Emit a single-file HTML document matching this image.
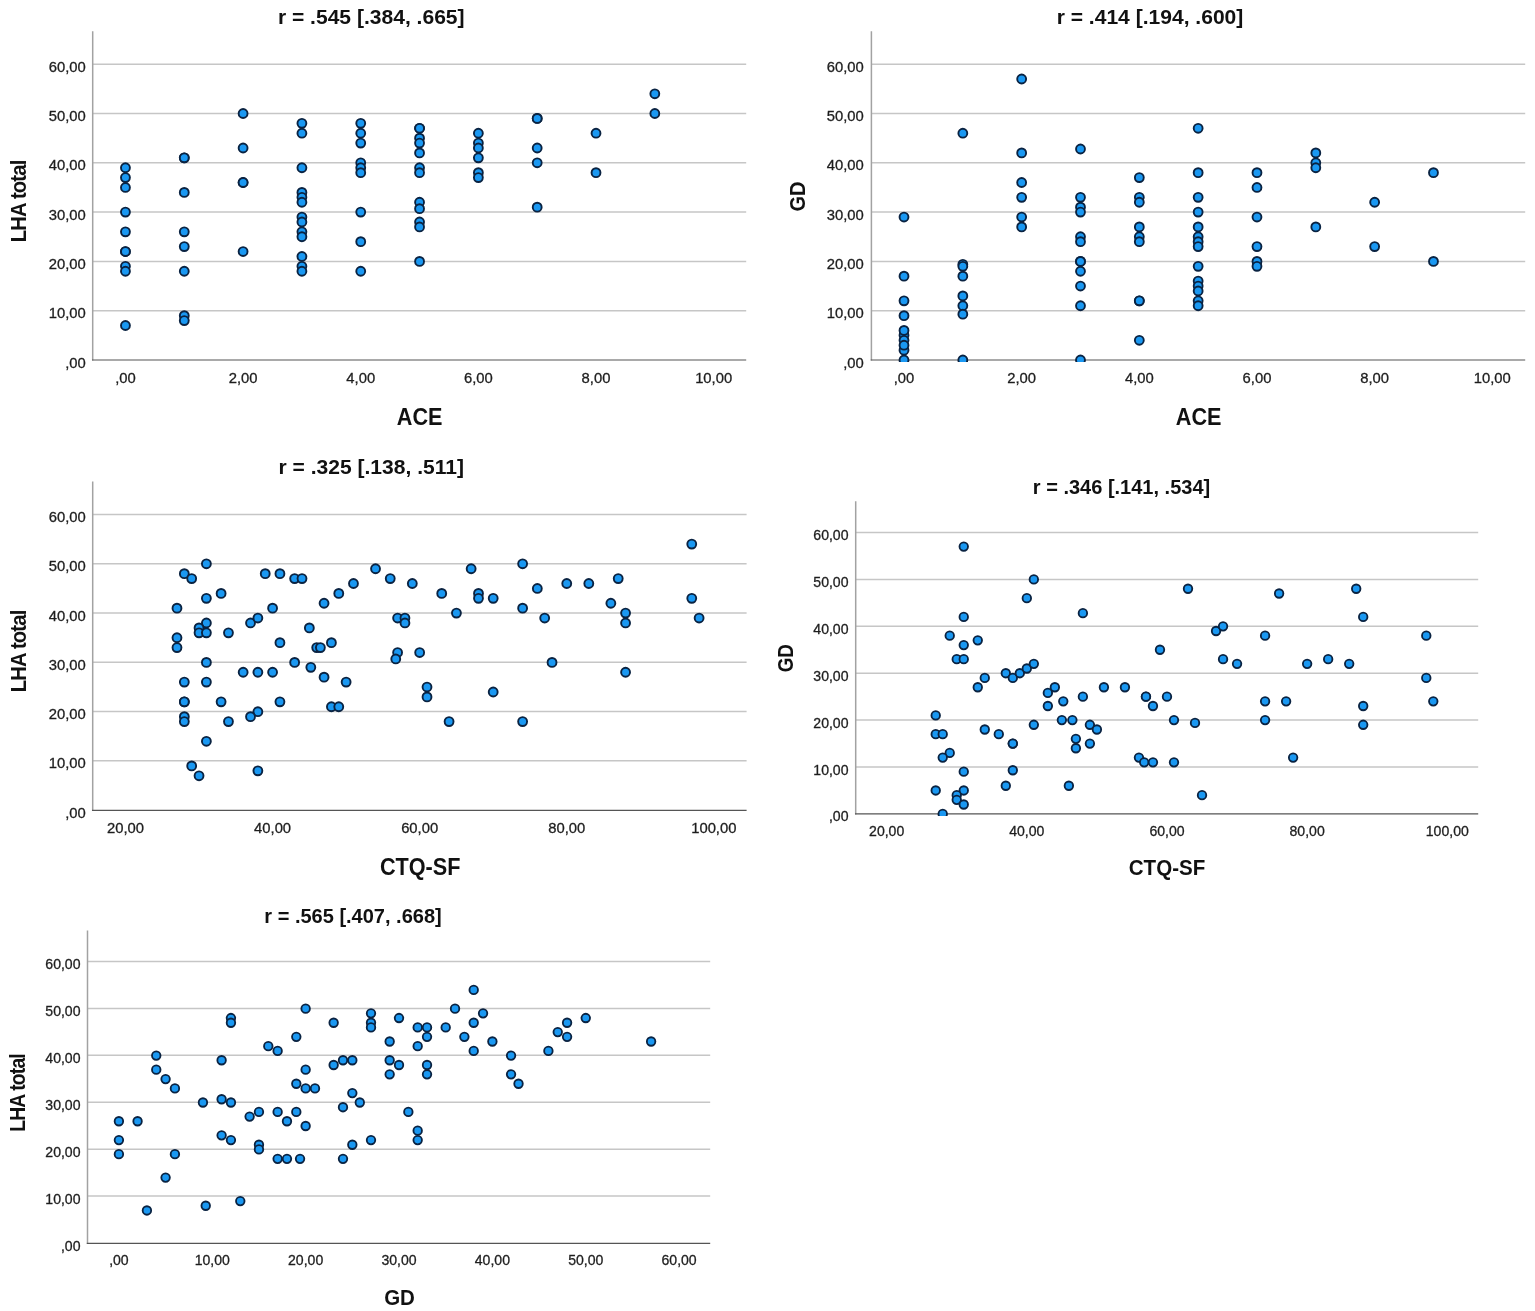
<!DOCTYPE html>
<html lang="en"><head><meta charset="utf-8"><title>Scatter plots</title>
<style>
html,body{margin:0;padding:0;background:#fff;}
body{width:1535px;height:1311px;overflow:hidden;}
svg{display:block;font-family:"Liberation Sans",Arial,sans-serif;}
</style></head><body>
<svg width="1535" height="1311" viewBox="0 0 1535 1311">
<rect width="1535" height="1311" fill="#ffffff"/>
<line x1="92.7" y1="64.2" x2="746.2" y2="64.2" stroke="#c6c6c6" stroke-width="1.5"/>
<line x1="92.7" y1="113.5" x2="746.2" y2="113.5" stroke="#c6c6c6" stroke-width="1.5"/>
<line x1="92.7" y1="162.8" x2="746.2" y2="162.8" stroke="#c6c6c6" stroke-width="1.5"/>
<line x1="92.7" y1="212.1" x2="746.2" y2="212.1" stroke="#c6c6c6" stroke-width="1.5"/>
<line x1="92.7" y1="261.4" x2="746.2" y2="261.4" stroke="#c6c6c6" stroke-width="1.5"/>
<line x1="92.7" y1="310.7" x2="746.2" y2="310.7" stroke="#c6c6c6" stroke-width="1.5"/>
<line x1="92.7" y1="31.3" x2="92.7" y2="360.6" stroke="#a2a2a2" stroke-width="1.5"/>
<line x1="92.0" y1="360.0" x2="746.2" y2="360.0" stroke="#555555" stroke-width="1.15"/>
<text x="85.8" y="71.75" font-size="14.8" text-anchor="end" fill="#1e1e1e" stroke="#1e1e1e" stroke-width="0.3">60,00</text>
<text x="85.8" y="121.05" font-size="14.8" text-anchor="end" fill="#1e1e1e" stroke="#1e1e1e" stroke-width="0.3">50,00</text>
<text x="85.8" y="170.35" font-size="14.8" text-anchor="end" fill="#1e1e1e" stroke="#1e1e1e" stroke-width="0.3">40,00</text>
<text x="85.8" y="219.65" font-size="14.8" text-anchor="end" fill="#1e1e1e" stroke="#1e1e1e" stroke-width="0.3">30,00</text>
<text x="85.8" y="268.95" font-size="14.8" text-anchor="end" fill="#1e1e1e" stroke="#1e1e1e" stroke-width="0.3">20,00</text>
<text x="85.8" y="318.25" font-size="14.8" text-anchor="end" fill="#1e1e1e" stroke="#1e1e1e" stroke-width="0.3">10,00</text>
<text x="85.8" y="367.55" font-size="14.8" text-anchor="end" fill="#1e1e1e" stroke="#1e1e1e" stroke-width="0.3">,00</text>
<text x="125.45" y="382.8" font-size="14.8" text-anchor="middle" fill="#1e1e1e" stroke="#1e1e1e" stroke-width="0.3">,00</text>
<text x="243.09" y="382.8" font-size="14.8" text-anchor="middle" fill="#1e1e1e" stroke="#1e1e1e" stroke-width="0.3">2,00</text>
<text x="360.73" y="382.8" font-size="14.8" text-anchor="middle" fill="#1e1e1e" stroke="#1e1e1e" stroke-width="0.3">4,00</text>
<text x="478.37" y="382.8" font-size="14.8" text-anchor="middle" fill="#1e1e1e" stroke="#1e1e1e" stroke-width="0.3">6,00</text>
<text x="596.01" y="382.8" font-size="14.8" text-anchor="middle" fill="#1e1e1e" stroke="#1e1e1e" stroke-width="0.3">8,00</text>
<text x="713.65" y="382.8" font-size="14.8" text-anchor="middle" fill="#1e1e1e" stroke="#1e1e1e" stroke-width="0.3">10,00</text>
<text x="371.25" y="24.0" font-size="21.05" font-weight="bold" text-anchor="middle" fill="#111">r = .545 [.384, .665]</text>
<text x="419.7" y="424.5" font-size="23.4" font-weight="bold" text-anchor="middle" fill="#111" textLength="45.7" lengthAdjust="spacingAndGlyphs">ACE</text>
<text transform="translate(26.4 201.4) rotate(-90) scale(0.89 1)" font-size="22.8" font-weight="bold" text-anchor="middle" letter-spacing="-0.97" fill="#111">LHA total</text>
<clipPath id="c1"><rect x="92.7" y="21.3" width="673.5" height="340.7"/></clipPath>
<g fill="#1a98f2" stroke="#0a2342" stroke-width="1.9" clip-path="url(#c1)">
<circle cx="125.45" cy="167.73" r="4.45"/>
<circle cx="125.45" cy="177.59" r="4.45"/>
<circle cx="125.45" cy="187.45" r="4.45"/>
<circle cx="125.45" cy="212.10" r="4.45"/>
<circle cx="125.45" cy="231.82" r="4.45"/>
<circle cx="125.45" cy="251.54" r="4.45"/>
<circle cx="125.45" cy="251.54" r="4.45"/>
<circle cx="125.45" cy="266.33" r="4.45"/>
<circle cx="125.45" cy="271.26" r="4.45"/>
<circle cx="125.45" cy="325.49" r="4.45"/>
<circle cx="184.27" cy="157.87" r="4.45"/>
<circle cx="184.27" cy="157.87" r="4.45"/>
<circle cx="184.27" cy="192.38" r="4.45"/>
<circle cx="184.27" cy="231.82" r="4.45"/>
<circle cx="184.27" cy="246.61" r="4.45"/>
<circle cx="184.27" cy="271.26" r="4.45"/>
<circle cx="184.27" cy="315.63" r="4.45"/>
<circle cx="184.27" cy="320.56" r="4.45"/>
<circle cx="243.09" cy="113.50" r="4.45"/>
<circle cx="243.09" cy="148.01" r="4.45"/>
<circle cx="243.09" cy="182.52" r="4.45"/>
<circle cx="243.09" cy="182.52" r="4.45"/>
<circle cx="243.09" cy="251.54" r="4.45"/>
<circle cx="301.91" cy="123.36" r="4.45"/>
<circle cx="301.91" cy="133.22" r="4.45"/>
<circle cx="301.91" cy="167.73" r="4.45"/>
<circle cx="301.91" cy="192.38" r="4.45"/>
<circle cx="301.91" cy="197.31" r="4.45"/>
<circle cx="301.91" cy="202.24" r="4.45"/>
<circle cx="301.91" cy="217.03" r="4.45"/>
<circle cx="301.91" cy="221.96" r="4.45"/>
<circle cx="301.91" cy="231.82" r="4.45"/>
<circle cx="301.91" cy="236.75" r="4.45"/>
<circle cx="301.91" cy="256.47" r="4.45"/>
<circle cx="301.91" cy="266.33" r="4.45"/>
<circle cx="301.91" cy="271.26" r="4.45"/>
<circle cx="360.73" cy="123.36" r="4.45"/>
<circle cx="360.73" cy="133.22" r="4.45"/>
<circle cx="360.73" cy="143.08" r="4.45"/>
<circle cx="360.73" cy="162.80" r="4.45"/>
<circle cx="360.73" cy="167.73" r="4.45"/>
<circle cx="360.73" cy="172.66" r="4.45"/>
<circle cx="360.73" cy="212.10" r="4.45"/>
<circle cx="360.73" cy="241.68" r="4.45"/>
<circle cx="360.73" cy="271.26" r="4.45"/>
<circle cx="419.55" cy="128.29" r="4.45"/>
<circle cx="419.55" cy="128.29" r="4.45"/>
<circle cx="419.55" cy="138.15" r="4.45"/>
<circle cx="419.55" cy="143.08" r="4.45"/>
<circle cx="419.55" cy="152.94" r="4.45"/>
<circle cx="419.55" cy="167.73" r="4.45"/>
<circle cx="419.55" cy="172.66" r="4.45"/>
<circle cx="419.55" cy="202.24" r="4.45"/>
<circle cx="419.55" cy="208.65" r="4.45"/>
<circle cx="419.55" cy="221.96" r="4.45"/>
<circle cx="419.55" cy="226.89" r="4.45"/>
<circle cx="419.55" cy="261.40" r="4.45"/>
<circle cx="478.37" cy="133.22" r="4.45"/>
<circle cx="478.37" cy="143.08" r="4.45"/>
<circle cx="478.37" cy="148.01" r="4.45"/>
<circle cx="478.37" cy="157.87" r="4.45"/>
<circle cx="478.37" cy="172.66" r="4.45"/>
<circle cx="478.37" cy="177.59" r="4.45"/>
<circle cx="537.19" cy="118.43" r="4.45"/>
<circle cx="537.19" cy="118.43" r="4.45"/>
<circle cx="537.19" cy="148.01" r="4.45"/>
<circle cx="537.19" cy="162.80" r="4.45"/>
<circle cx="537.19" cy="207.17" r="4.45"/>
<circle cx="596.01" cy="133.22" r="4.45"/>
<circle cx="596.01" cy="172.66" r="4.45"/>
<circle cx="654.83" cy="93.78" r="4.45"/>
<circle cx="654.83" cy="113.50" r="4.45"/>
</g>
<line x1="871.4" y1="64.2" x2="1525.2" y2="64.2" stroke="#c6c6c6" stroke-width="1.5"/>
<line x1="871.4" y1="113.5" x2="1525.2" y2="113.5" stroke="#c6c6c6" stroke-width="1.5"/>
<line x1="871.4" y1="162.8" x2="1525.2" y2="162.8" stroke="#c6c6c6" stroke-width="1.5"/>
<line x1="871.4" y1="212.1" x2="1525.2" y2="212.1" stroke="#c6c6c6" stroke-width="1.5"/>
<line x1="871.4" y1="261.4" x2="1525.2" y2="261.4" stroke="#c6c6c6" stroke-width="1.5"/>
<line x1="871.4" y1="310.7" x2="1525.2" y2="310.7" stroke="#c6c6c6" stroke-width="1.5"/>
<line x1="871.4" y1="31.3" x2="871.4" y2="360.6" stroke="#a2a2a2" stroke-width="1.5"/>
<line x1="870.6999999999999" y1="360.0" x2="1525.2" y2="360.0" stroke="#555555" stroke-width="1.15"/>
<text x="863.8" y="71.75" font-size="14.8" text-anchor="end" fill="#1e1e1e" stroke="#1e1e1e" stroke-width="0.3">60,00</text>
<text x="863.8" y="121.05" font-size="14.8" text-anchor="end" fill="#1e1e1e" stroke="#1e1e1e" stroke-width="0.3">50,00</text>
<text x="863.8" y="170.35" font-size="14.8" text-anchor="end" fill="#1e1e1e" stroke="#1e1e1e" stroke-width="0.3">40,00</text>
<text x="863.8" y="219.65" font-size="14.8" text-anchor="end" fill="#1e1e1e" stroke="#1e1e1e" stroke-width="0.3">30,00</text>
<text x="863.8" y="268.95" font-size="14.8" text-anchor="end" fill="#1e1e1e" stroke="#1e1e1e" stroke-width="0.3">20,00</text>
<text x="863.8" y="318.25" font-size="14.8" text-anchor="end" fill="#1e1e1e" stroke="#1e1e1e" stroke-width="0.3">10,00</text>
<text x="863.8" y="367.55" font-size="14.8" text-anchor="end" fill="#1e1e1e" stroke="#1e1e1e" stroke-width="0.3">,00</text>
<text x="904.00" y="382.8" font-size="14.8" text-anchor="middle" fill="#1e1e1e" stroke="#1e1e1e" stroke-width="0.3">,00</text>
<text x="1021.66" y="382.8" font-size="14.8" text-anchor="middle" fill="#1e1e1e" stroke="#1e1e1e" stroke-width="0.3">2,00</text>
<text x="1139.32" y="382.8" font-size="14.8" text-anchor="middle" fill="#1e1e1e" stroke="#1e1e1e" stroke-width="0.3">4,00</text>
<text x="1256.98" y="382.8" font-size="14.8" text-anchor="middle" fill="#1e1e1e" stroke="#1e1e1e" stroke-width="0.3">6,00</text>
<text x="1374.64" y="382.8" font-size="14.8" text-anchor="middle" fill="#1e1e1e" stroke="#1e1e1e" stroke-width="0.3">8,00</text>
<text x="1492.30" y="382.8" font-size="14.8" text-anchor="middle" fill="#1e1e1e" stroke="#1e1e1e" stroke-width="0.3">10,00</text>
<text x="1150" y="24.0" font-size="21.05" font-weight="bold" text-anchor="middle" fill="#111">r = .414 [.194, .600]</text>
<text x="1198.7" y="424.5" font-size="23.4" font-weight="bold" text-anchor="middle" fill="#111" textLength="45.7" lengthAdjust="spacingAndGlyphs">ACE</text>
<text transform="translate(805.3 196.5) rotate(-90) scale(0.88 1)" font-size="22.8" font-weight="bold" text-anchor="middle" letter-spacing="0" fill="#111">GD</text>
<clipPath id="c2"><rect x="871.4" y="21.3" width="673.8000000000001" height="340.7"/></clipPath>
<g fill="#1a98f2" stroke="#0a2342" stroke-width="1.9" clip-path="url(#c2)">
<circle cx="904.00" cy="217.03" r="4.45"/>
<circle cx="904.00" cy="276.19" r="4.45"/>
<circle cx="904.00" cy="300.84" r="4.45"/>
<circle cx="904.00" cy="315.63" r="4.45"/>
<circle cx="904.00" cy="335.35" r="4.45"/>
<circle cx="904.00" cy="340.28" r="4.45"/>
<circle cx="904.00" cy="350.14" r="4.45"/>
<circle cx="904.00" cy="330.42" r="4.45"/>
<circle cx="904.00" cy="345.21" r="4.45"/>
<circle cx="904.00" cy="360.00" r="4.45"/>
<circle cx="962.83" cy="133.22" r="4.45"/>
<circle cx="962.83" cy="264.36" r="4.45"/>
<circle cx="962.83" cy="266.33" r="4.45"/>
<circle cx="962.83" cy="276.19" r="4.45"/>
<circle cx="962.83" cy="295.91" r="4.45"/>
<circle cx="962.83" cy="305.77" r="4.45"/>
<circle cx="962.83" cy="314.15" r="4.45"/>
<circle cx="962.83" cy="360.00" r="4.45"/>
<circle cx="1021.66" cy="78.99" r="4.45"/>
<circle cx="1021.66" cy="152.94" r="4.45"/>
<circle cx="1021.66" cy="182.52" r="4.45"/>
<circle cx="1021.66" cy="197.31" r="4.45"/>
<circle cx="1021.66" cy="217.03" r="4.45"/>
<circle cx="1021.66" cy="226.89" r="4.45"/>
<circle cx="1080.49" cy="149.00" r="4.45"/>
<circle cx="1080.49" cy="197.31" r="4.45"/>
<circle cx="1080.49" cy="207.17" r="4.45"/>
<circle cx="1080.49" cy="212.10" r="4.45"/>
<circle cx="1080.49" cy="236.75" r="4.45"/>
<circle cx="1080.49" cy="241.68" r="4.45"/>
<circle cx="1080.49" cy="261.40" r="4.45"/>
<circle cx="1080.49" cy="261.40" r="4.45"/>
<circle cx="1080.49" cy="271.26" r="4.45"/>
<circle cx="1080.49" cy="286.05" r="4.45"/>
<circle cx="1080.49" cy="305.77" r="4.45"/>
<circle cx="1080.49" cy="360.00" r="4.45"/>
<circle cx="1139.32" cy="177.59" r="4.45"/>
<circle cx="1139.32" cy="197.31" r="4.45"/>
<circle cx="1139.32" cy="202.24" r="4.45"/>
<circle cx="1139.32" cy="226.89" r="4.45"/>
<circle cx="1139.32" cy="236.75" r="4.45"/>
<circle cx="1139.32" cy="241.68" r="4.45"/>
<circle cx="1139.32" cy="300.84" r="4.45"/>
<circle cx="1139.32" cy="300.84" r="4.45"/>
<circle cx="1139.32" cy="340.28" r="4.45"/>
<circle cx="1198.15" cy="128.29" r="4.45"/>
<circle cx="1198.15" cy="172.66" r="4.45"/>
<circle cx="1198.15" cy="197.31" r="4.45"/>
<circle cx="1198.15" cy="212.10" r="4.45"/>
<circle cx="1198.15" cy="226.89" r="4.45"/>
<circle cx="1198.15" cy="236.75" r="4.45"/>
<circle cx="1198.15" cy="241.68" r="4.45"/>
<circle cx="1198.15" cy="246.61" r="4.45"/>
<circle cx="1198.15" cy="266.33" r="4.45"/>
<circle cx="1198.15" cy="281.12" r="4.45"/>
<circle cx="1198.15" cy="286.05" r="4.45"/>
<circle cx="1198.15" cy="290.98" r="4.45"/>
<circle cx="1198.15" cy="300.84" r="4.45"/>
<circle cx="1198.15" cy="305.77" r="4.45"/>
<circle cx="1256.98" cy="172.66" r="4.45"/>
<circle cx="1256.98" cy="187.45" r="4.45"/>
<circle cx="1256.98" cy="217.03" r="4.45"/>
<circle cx="1256.98" cy="246.61" r="4.45"/>
<circle cx="1256.98" cy="261.40" r="4.45"/>
<circle cx="1256.98" cy="266.33" r="4.45"/>
<circle cx="1315.81" cy="152.94" r="4.45"/>
<circle cx="1315.81" cy="162.80" r="4.45"/>
<circle cx="1315.81" cy="167.73" r="4.45"/>
<circle cx="1315.81" cy="226.89" r="4.45"/>
<circle cx="1374.64" cy="202.24" r="4.45"/>
<circle cx="1374.64" cy="246.61" r="4.45"/>
<circle cx="1433.47" cy="172.66" r="4.45"/>
<circle cx="1433.47" cy="261.40" r="4.45"/>
</g>
<line x1="92.7" y1="514.4" x2="746.6" y2="514.4" stroke="#c6c6c6" stroke-width="1.5"/>
<line x1="92.7" y1="563.7" x2="746.6" y2="563.7" stroke="#c6c6c6" stroke-width="1.5"/>
<line x1="92.7" y1="612.95" x2="746.6" y2="612.95" stroke="#c6c6c6" stroke-width="1.5"/>
<line x1="92.7" y1="662.2" x2="746.6" y2="662.2" stroke="#c6c6c6" stroke-width="1.5"/>
<line x1="92.7" y1="711.5" x2="746.6" y2="711.5" stroke="#c6c6c6" stroke-width="1.5"/>
<line x1="92.7" y1="760.75" x2="746.6" y2="760.75" stroke="#c6c6c6" stroke-width="1.5"/>
<line x1="92.7" y1="481.5" x2="92.7" y2="810.9" stroke="#a2a2a2" stroke-width="1.5"/>
<line x1="92.0" y1="810.3" x2="746.6" y2="810.3" stroke="#555555" stroke-width="1.15"/>
<text x="85.8" y="521.95" font-size="14.8" text-anchor="end" fill="#1e1e1e" stroke="#1e1e1e" stroke-width="0.3">60,00</text>
<text x="85.8" y="571.25" font-size="14.8" text-anchor="end" fill="#1e1e1e" stroke="#1e1e1e" stroke-width="0.3">50,00</text>
<text x="85.8" y="620.50" font-size="14.8" text-anchor="end" fill="#1e1e1e" stroke="#1e1e1e" stroke-width="0.3">40,00</text>
<text x="85.8" y="669.75" font-size="14.8" text-anchor="end" fill="#1e1e1e" stroke="#1e1e1e" stroke-width="0.3">30,00</text>
<text x="85.8" y="719.05" font-size="14.8" text-anchor="end" fill="#1e1e1e" stroke="#1e1e1e" stroke-width="0.3">20,00</text>
<text x="85.8" y="768.30" font-size="14.8" text-anchor="end" fill="#1e1e1e" stroke="#1e1e1e" stroke-width="0.3">10,00</text>
<text x="85.8" y="817.85" font-size="14.8" text-anchor="end" fill="#1e1e1e" stroke="#1e1e1e" stroke-width="0.3">,00</text>
<text x="125.50" y="832.9" font-size="14.8" text-anchor="middle" fill="#1e1e1e" stroke="#1e1e1e" stroke-width="0.3">20,00</text>
<text x="272.58" y="832.9" font-size="14.8" text-anchor="middle" fill="#1e1e1e" stroke="#1e1e1e" stroke-width="0.3">40,00</text>
<text x="419.66" y="832.9" font-size="14.8" text-anchor="middle" fill="#1e1e1e" stroke="#1e1e1e" stroke-width="0.3">60,00</text>
<text x="566.74" y="832.9" font-size="14.8" text-anchor="middle" fill="#1e1e1e" stroke="#1e1e1e" stroke-width="0.3">80,00</text>
<text x="713.82" y="832.9" font-size="14.8" text-anchor="middle" fill="#1e1e1e" stroke="#1e1e1e" stroke-width="0.3">100,00</text>
<text x="371.25" y="474.0" font-size="21.05" font-weight="bold" text-anchor="middle" fill="#111">r = .325 [.138, .511]</text>
<text x="420.2" y="874.6" font-size="23.4" font-weight="bold" text-anchor="middle" fill="#111" textLength="80.6" lengthAdjust="spacingAndGlyphs">CTQ-SF</text>
<text transform="translate(26.4 651.4) rotate(-90) scale(0.89 1)" font-size="22.8" font-weight="bold" text-anchor="middle" letter-spacing="-0.97" fill="#111">LHA total</text>
<clipPath id="c3"><rect x="92.7" y="471.5" width="673.9" height="340.79999999999995"/></clipPath>
<g fill="#1a98f2" stroke="#0a2342" stroke-width="1.9" clip-path="url(#c3)">
<circle cx="176.98" cy="608.17" r="4.45"/>
<circle cx="176.98" cy="637.75" r="4.45"/>
<circle cx="176.98" cy="647.61" r="4.45"/>
<circle cx="184.33" cy="573.66" r="4.45"/>
<circle cx="191.69" cy="578.59" r="4.45"/>
<circle cx="206.39" cy="563.80" r="4.45"/>
<circle cx="206.39" cy="598.31" r="4.45"/>
<circle cx="206.39" cy="622.96" r="4.45"/>
<circle cx="199.04" cy="627.89" r="4.45"/>
<circle cx="199.04" cy="632.82" r="4.45"/>
<circle cx="206.39" cy="632.82" r="4.45"/>
<circle cx="221.10" cy="593.38" r="4.45"/>
<circle cx="228.46" cy="632.82" r="4.45"/>
<circle cx="250.52" cy="622.96" r="4.45"/>
<circle cx="257.87" cy="618.03" r="4.45"/>
<circle cx="265.23" cy="573.66" r="4.45"/>
<circle cx="272.58" cy="608.17" r="4.45"/>
<circle cx="279.93" cy="573.66" r="4.45"/>
<circle cx="279.93" cy="642.68" r="4.45"/>
<circle cx="294.64" cy="578.59" r="4.45"/>
<circle cx="302.00" cy="578.59" r="4.45"/>
<circle cx="309.35" cy="627.89" r="4.45"/>
<circle cx="316.70" cy="647.61" r="4.45"/>
<circle cx="320.38" cy="647.61" r="4.45"/>
<circle cx="324.06" cy="603.24" r="4.45"/>
<circle cx="331.41" cy="642.68" r="4.45"/>
<circle cx="338.77" cy="593.38" r="4.45"/>
<circle cx="353.47" cy="583.52" r="4.45"/>
<circle cx="375.54" cy="568.73" r="4.45"/>
<circle cx="206.39" cy="662.40" r="4.45"/>
<circle cx="294.64" cy="662.40" r="4.45"/>
<circle cx="184.33" cy="682.12" r="4.45"/>
<circle cx="206.39" cy="682.12" r="4.45"/>
<circle cx="184.33" cy="701.84" r="4.45"/>
<circle cx="184.33" cy="701.84" r="4.45"/>
<circle cx="221.10" cy="701.84" r="4.45"/>
<circle cx="184.33" cy="716.63" r="4.45"/>
<circle cx="184.33" cy="721.56" r="4.45"/>
<circle cx="228.46" cy="721.56" r="4.45"/>
<circle cx="206.39" cy="741.28" r="4.45"/>
<circle cx="191.69" cy="765.93" r="4.45"/>
<circle cx="199.04" cy="775.79" r="4.45"/>
<circle cx="257.87" cy="770.86" r="4.45"/>
<circle cx="243.16" cy="672.26" r="4.45"/>
<circle cx="257.87" cy="672.26" r="4.45"/>
<circle cx="272.58" cy="672.26" r="4.45"/>
<circle cx="279.93" cy="701.84" r="4.45"/>
<circle cx="257.87" cy="711.70" r="4.45"/>
<circle cx="250.52" cy="716.63" r="4.45"/>
<circle cx="310.82" cy="667.33" r="4.45"/>
<circle cx="324.06" cy="677.19" r="4.45"/>
<circle cx="346.12" cy="682.12" r="4.45"/>
<circle cx="331.41" cy="706.77" r="4.45"/>
<circle cx="338.77" cy="706.77" r="4.45"/>
<circle cx="397.60" cy="618.03" r="4.45"/>
<circle cx="404.95" cy="618.03" r="4.45"/>
<circle cx="404.95" cy="622.96" r="4.45"/>
<circle cx="397.60" cy="652.54" r="4.45"/>
<circle cx="395.76" cy="658.95" r="4.45"/>
<circle cx="419.66" cy="652.54" r="4.45"/>
<circle cx="427.01" cy="687.05" r="4.45"/>
<circle cx="427.01" cy="696.91" r="4.45"/>
<circle cx="449.08" cy="721.56" r="4.45"/>
<circle cx="456.43" cy="613.10" r="4.45"/>
<circle cx="390.24" cy="578.59" r="4.45"/>
<circle cx="412.31" cy="583.52" r="4.45"/>
<circle cx="441.72" cy="593.38" r="4.45"/>
<circle cx="471.14" cy="568.73" r="4.45"/>
<circle cx="478.49" cy="593.38" r="4.45"/>
<circle cx="478.49" cy="598.31" r="4.45"/>
<circle cx="493.20" cy="598.31" r="4.45"/>
<circle cx="493.20" cy="691.98" r="4.45"/>
<circle cx="522.62" cy="563.80" r="4.45"/>
<circle cx="522.62" cy="608.17" r="4.45"/>
<circle cx="537.32" cy="588.45" r="4.45"/>
<circle cx="544.68" cy="618.03" r="4.45"/>
<circle cx="552.03" cy="662.40" r="4.45"/>
<circle cx="566.74" cy="583.52" r="4.45"/>
<circle cx="588.80" cy="583.52" r="4.45"/>
<circle cx="618.22" cy="578.59" r="4.45"/>
<circle cx="610.86" cy="603.24" r="4.45"/>
<circle cx="625.57" cy="613.10" r="4.45"/>
<circle cx="625.57" cy="622.96" r="4.45"/>
<circle cx="625.57" cy="672.26" r="4.45"/>
<circle cx="691.76" cy="544.08" r="4.45"/>
<circle cx="691.76" cy="598.31" r="4.45"/>
<circle cx="699.11" cy="618.03" r="4.45"/>
<circle cx="522.62" cy="721.56" r="4.45"/>
</g>
<line x1="855.7" y1="532.5" x2="1478.2" y2="532.5" stroke="#c6c6c6" stroke-width="1.5"/>
<line x1="855.7" y1="579.4" x2="1478.2" y2="579.4" stroke="#c6c6c6" stroke-width="1.5"/>
<line x1="855.7" y1="626.3" x2="1478.2" y2="626.3" stroke="#c6c6c6" stroke-width="1.5"/>
<line x1="855.7" y1="673.2" x2="1478.2" y2="673.2" stroke="#c6c6c6" stroke-width="1.5"/>
<line x1="855.7" y1="720.1" x2="1478.2" y2="720.1" stroke="#c6c6c6" stroke-width="1.5"/>
<line x1="855.7" y1="767.0" x2="1478.2" y2="767.0" stroke="#c6c6c6" stroke-width="1.5"/>
<line x1="855.7" y1="501.3" x2="855.7" y2="814.5" stroke="#a2a2a2" stroke-width="1.5"/>
<line x1="855.0" y1="813.9" x2="1478.2" y2="813.9" stroke="#555555" stroke-width="1.15"/>
<text x="848.5" y="540.05" font-size="14.05" text-anchor="end" fill="#1e1e1e" stroke="#1e1e1e" stroke-width="0.3">60,00</text>
<text x="848.5" y="586.95" font-size="14.05" text-anchor="end" fill="#1e1e1e" stroke="#1e1e1e" stroke-width="0.3">50,00</text>
<text x="848.5" y="633.85" font-size="14.05" text-anchor="end" fill="#1e1e1e" stroke="#1e1e1e" stroke-width="0.3">40,00</text>
<text x="848.5" y="680.75" font-size="14.05" text-anchor="end" fill="#1e1e1e" stroke="#1e1e1e" stroke-width="0.3">30,00</text>
<text x="848.5" y="727.65" font-size="14.05" text-anchor="end" fill="#1e1e1e" stroke="#1e1e1e" stroke-width="0.3">20,00</text>
<text x="848.5" y="774.55" font-size="14.05" text-anchor="end" fill="#1e1e1e" stroke="#1e1e1e" stroke-width="0.3">10,00</text>
<text x="848.5" y="821.45" font-size="14.05" text-anchor="end" fill="#1e1e1e" stroke="#1e1e1e" stroke-width="0.3">,00</text>
<text x="886.66" y="835.8" font-size="14.05" text-anchor="middle" fill="#1e1e1e" stroke="#1e1e1e" stroke-width="0.3">20,00</text>
<text x="1026.82" y="835.8" font-size="14.05" text-anchor="middle" fill="#1e1e1e" stroke="#1e1e1e" stroke-width="0.3">40,00</text>
<text x="1166.98" y="835.8" font-size="14.05" text-anchor="middle" fill="#1e1e1e" stroke="#1e1e1e" stroke-width="0.3">60,00</text>
<text x="1307.14" y="835.8" font-size="14.05" text-anchor="middle" fill="#1e1e1e" stroke="#1e1e1e" stroke-width="0.3">80,00</text>
<text x="1447.30" y="835.8" font-size="14.05" text-anchor="middle" fill="#1e1e1e" stroke="#1e1e1e" stroke-width="0.3">100,00</text>
<text x="1121.5" y="494.0" font-size="20.0" font-weight="bold" text-anchor="middle" fill="#111">r = .346 [.141, .534]</text>
<text x="1167" y="874.6" font-size="22.2" font-weight="bold" text-anchor="middle" fill="#111" textLength="76.5" lengthAdjust="spacingAndGlyphs">CTQ-SF</text>
<text transform="translate(792.8 658.2) rotate(-90) scale(0.87 1)" font-size="21.7" font-weight="bold" text-anchor="middle" letter-spacing="0" fill="#111">GD</text>
<clipPath id="c4"><rect x="855.7" y="491.3" width="642.5" height="324.59999999999997"/></clipPath>
<g fill="#1a98f2" stroke="#0a2342" stroke-width="1.85" clip-path="url(#c4)">
<circle cx="963.75" cy="546.57" r="4.25"/>
<circle cx="963.75" cy="616.92" r="4.25"/>
<circle cx="949.73" cy="635.68" r="4.25"/>
<circle cx="963.75" cy="645.06" r="4.25"/>
<circle cx="977.76" cy="640.37" r="4.25"/>
<circle cx="956.74" cy="659.13" r="4.25"/>
<circle cx="963.75" cy="659.13" r="4.25"/>
<circle cx="984.77" cy="677.89" r="4.25"/>
<circle cx="1005.80" cy="673.20" r="4.25"/>
<circle cx="1012.80" cy="677.89" r="4.25"/>
<circle cx="1019.81" cy="673.20" r="4.25"/>
<circle cx="1026.82" cy="668.51" r="4.25"/>
<circle cx="1033.83" cy="663.82" r="4.25"/>
<circle cx="1026.82" cy="598.16" r="4.25"/>
<circle cx="1033.83" cy="579.40" r="4.25"/>
<circle cx="1082.88" cy="613.17" r="4.25"/>
<circle cx="977.76" cy="687.27" r="4.25"/>
<circle cx="935.72" cy="715.41" r="4.25"/>
<circle cx="935.72" cy="734.17" r="4.25"/>
<circle cx="942.72" cy="734.17" r="4.25"/>
<circle cx="949.73" cy="752.93" r="4.25"/>
<circle cx="942.72" cy="757.62" r="4.25"/>
<circle cx="963.75" cy="771.69" r="4.25"/>
<circle cx="935.72" cy="790.45" r="4.25"/>
<circle cx="963.75" cy="790.45" r="4.25"/>
<circle cx="956.74" cy="795.14" r="4.25"/>
<circle cx="956.74" cy="799.83" r="4.25"/>
<circle cx="963.75" cy="804.52" r="4.25"/>
<circle cx="942.72" cy="813.90" r="4.25"/>
<circle cx="984.77" cy="729.48" r="4.25"/>
<circle cx="998.79" cy="734.17" r="4.25"/>
<circle cx="1012.80" cy="743.55" r="4.25"/>
<circle cx="1012.80" cy="743.55" r="4.25"/>
<circle cx="1012.80" cy="770.28" r="4.25"/>
<circle cx="1005.80" cy="785.76" r="4.25"/>
<circle cx="1033.83" cy="724.79" r="4.25"/>
<circle cx="1047.84" cy="692.90" r="4.25"/>
<circle cx="1054.85" cy="687.27" r="4.25"/>
<circle cx="1047.84" cy="706.03" r="4.25"/>
<circle cx="1063.26" cy="701.34" r="4.25"/>
<circle cx="1061.86" cy="720.10" r="4.25"/>
<circle cx="1072.37" cy="720.10" r="4.25"/>
<circle cx="1082.88" cy="696.65" r="4.25"/>
<circle cx="1075.88" cy="738.86" r="4.25"/>
<circle cx="1075.88" cy="748.24" r="4.25"/>
<circle cx="1068.87" cy="785.76" r="4.25"/>
<circle cx="1089.89" cy="724.79" r="4.25"/>
<circle cx="1089.89" cy="743.55" r="4.25"/>
<circle cx="1096.90" cy="729.48" r="4.25"/>
<circle cx="1103.91" cy="687.27" r="4.25"/>
<circle cx="1124.93" cy="687.27" r="4.25"/>
<circle cx="1145.96" cy="696.65" r="4.25"/>
<circle cx="1145.96" cy="696.65" r="4.25"/>
<circle cx="1152.96" cy="706.03" r="4.25"/>
<circle cx="1166.98" cy="696.65" r="4.25"/>
<circle cx="1159.97" cy="649.75" r="4.25"/>
<circle cx="1173.99" cy="720.10" r="4.25"/>
<circle cx="1195.01" cy="722.91" r="4.25"/>
<circle cx="1138.95" cy="757.62" r="4.25"/>
<circle cx="1144.20" cy="762.31" r="4.25"/>
<circle cx="1152.96" cy="762.31" r="4.25"/>
<circle cx="1173.99" cy="762.31" r="4.25"/>
<circle cx="1202.02" cy="795.14" r="4.25"/>
<circle cx="1216.04" cy="630.99" r="4.25"/>
<circle cx="1223.04" cy="626.30" r="4.25"/>
<circle cx="1223.04" cy="659.13" r="4.25"/>
<circle cx="1188.00" cy="588.78" r="4.25"/>
<circle cx="1237.06" cy="663.82" r="4.25"/>
<circle cx="1265.09" cy="635.68" r="4.25"/>
<circle cx="1279.11" cy="593.47" r="4.25"/>
<circle cx="1307.14" cy="663.82" r="4.25"/>
<circle cx="1328.16" cy="659.13" r="4.25"/>
<circle cx="1349.19" cy="663.82" r="4.25"/>
<circle cx="1356.20" cy="588.78" r="4.25"/>
<circle cx="1363.20" cy="616.92" r="4.25"/>
<circle cx="1426.28" cy="635.68" r="4.25"/>
<circle cx="1426.28" cy="677.89" r="4.25"/>
<circle cx="1433.28" cy="701.34" r="4.25"/>
<circle cx="1265.09" cy="701.34" r="4.25"/>
<circle cx="1286.12" cy="701.34" r="4.25"/>
<circle cx="1363.20" cy="706.03" r="4.25"/>
<circle cx="1265.09" cy="720.10" r="4.25"/>
<circle cx="1363.20" cy="724.79" r="4.25"/>
<circle cx="1293.12" cy="757.62" r="4.25"/>
</g>
<line x1="87.5" y1="961.5" x2="710.2" y2="961.5" stroke="#c6c6c6" stroke-width="1.5"/>
<line x1="87.5" y1="1008.4" x2="710.2" y2="1008.4" stroke="#c6c6c6" stroke-width="1.5"/>
<line x1="87.5" y1="1055.3" x2="710.2" y2="1055.3" stroke="#c6c6c6" stroke-width="1.5"/>
<line x1="87.5" y1="1102.3" x2="710.2" y2="1102.3" stroke="#c6c6c6" stroke-width="1.5"/>
<line x1="87.5" y1="1149.2" x2="710.2" y2="1149.2" stroke="#c6c6c6" stroke-width="1.5"/>
<line x1="87.5" y1="1196.1" x2="710.2" y2="1196.1" stroke="#c6c6c6" stroke-width="1.5"/>
<line x1="87.5" y1="930.5" x2="87.5" y2="1243.8999999999999" stroke="#a2a2a2" stroke-width="1.5"/>
<line x1="86.8" y1="1243.3" x2="710.2" y2="1243.3" stroke="#555555" stroke-width="1.15"/>
<text x="80.5" y="969.05" font-size="14.05" text-anchor="end" fill="#1e1e1e" stroke="#1e1e1e" stroke-width="0.3">60,00</text>
<text x="80.5" y="1015.95" font-size="14.05" text-anchor="end" fill="#1e1e1e" stroke="#1e1e1e" stroke-width="0.3">50,00</text>
<text x="80.5" y="1062.85" font-size="14.05" text-anchor="end" fill="#1e1e1e" stroke="#1e1e1e" stroke-width="0.3">40,00</text>
<text x="80.5" y="1109.85" font-size="14.05" text-anchor="end" fill="#1e1e1e" stroke="#1e1e1e" stroke-width="0.3">30,00</text>
<text x="80.5" y="1156.75" font-size="14.05" text-anchor="end" fill="#1e1e1e" stroke="#1e1e1e" stroke-width="0.3">20,00</text>
<text x="80.5" y="1203.65" font-size="14.05" text-anchor="end" fill="#1e1e1e" stroke="#1e1e1e" stroke-width="0.3">10,00</text>
<text x="80.5" y="1250.85" font-size="14.05" text-anchor="end" fill="#1e1e1e" stroke="#1e1e1e" stroke-width="0.3">,00</text>
<text x="118.90" y="1264.8" font-size="14.05" text-anchor="middle" fill="#1e1e1e" stroke="#1e1e1e" stroke-width="0.3">,00</text>
<text x="212.27" y="1264.8" font-size="14.05" text-anchor="middle" fill="#1e1e1e" stroke="#1e1e1e" stroke-width="0.3">10,00</text>
<text x="305.64" y="1264.8" font-size="14.05" text-anchor="middle" fill="#1e1e1e" stroke="#1e1e1e" stroke-width="0.3">20,00</text>
<text x="399.01" y="1264.8" font-size="14.05" text-anchor="middle" fill="#1e1e1e" stroke="#1e1e1e" stroke-width="0.3">30,00</text>
<text x="492.38" y="1264.8" font-size="14.05" text-anchor="middle" fill="#1e1e1e" stroke="#1e1e1e" stroke-width="0.3">40,00</text>
<text x="585.75" y="1264.8" font-size="14.05" text-anchor="middle" fill="#1e1e1e" stroke="#1e1e1e" stroke-width="0.3">50,00</text>
<text x="679.12" y="1264.8" font-size="14.05" text-anchor="middle" fill="#1e1e1e" stroke="#1e1e1e" stroke-width="0.3">60,00</text>
<text x="353" y="923.0" font-size="20.0" font-weight="bold" text-anchor="middle" fill="#111">r = .565 [.407, .668]</text>
<text x="399.5" y="1305" font-size="22.6" font-weight="bold" text-anchor="middle" fill="#111" textLength="30.7" lengthAdjust="spacingAndGlyphs">GD</text>
<text transform="translate(25.4 1093) rotate(-90) scale(0.89 1)" font-size="21.7" font-weight="bold" text-anchor="middle" letter-spacing="-0.92" fill="#111">LHA total</text>
<clipPath id="c5"><rect x="87.5" y="920.5" width="642.7" height="324.79999999999995"/></clipPath>
<g fill="#1a98f2" stroke="#0a2342" stroke-width="1.85" clip-path="url(#c5)">
<circle cx="156.25" cy="1055.58" r="4.25"/>
<circle cx="156.25" cy="1069.66" r="4.25"/>
<circle cx="165.59" cy="1079.05" r="4.25"/>
<circle cx="174.92" cy="1088.43" r="4.25"/>
<circle cx="202.93" cy="1102.51" r="4.25"/>
<circle cx="221.61" cy="1099.22" r="4.25"/>
<circle cx="230.94" cy="1102.51" r="4.25"/>
<circle cx="221.61" cy="1060.27" r="4.25"/>
<circle cx="230.94" cy="1018.04" r="4.25"/>
<circle cx="230.94" cy="1022.73" r="4.25"/>
<circle cx="268.29" cy="1046.19" r="4.25"/>
<circle cx="277.63" cy="1050.89" r="4.25"/>
<circle cx="296.30" cy="1036.81" r="4.25"/>
<circle cx="305.64" cy="1008.65" r="4.25"/>
<circle cx="305.64" cy="1069.66" r="4.25"/>
<circle cx="296.30" cy="1083.74" r="4.25"/>
<circle cx="305.64" cy="1088.43" r="4.25"/>
<circle cx="314.98" cy="1088.43" r="4.25"/>
<circle cx="333.65" cy="1022.73" r="4.25"/>
<circle cx="333.65" cy="1064.97" r="4.25"/>
<circle cx="342.99" cy="1060.27" r="4.25"/>
<circle cx="352.32" cy="1060.27" r="4.25"/>
<circle cx="352.32" cy="1093.12" r="4.25"/>
<circle cx="359.79" cy="1102.51" r="4.25"/>
<circle cx="342.99" cy="1107.20" r="4.25"/>
<circle cx="371.00" cy="1013.34" r="4.25"/>
<circle cx="371.00" cy="1022.73" r="4.25"/>
<circle cx="371.00" cy="1027.42" r="4.25"/>
<circle cx="118.90" cy="1121.28" r="4.25"/>
<circle cx="137.57" cy="1121.28" r="4.25"/>
<circle cx="118.90" cy="1140.05" r="4.25"/>
<circle cx="118.90" cy="1154.13" r="4.25"/>
<circle cx="174.92" cy="1154.13" r="4.25"/>
<circle cx="165.59" cy="1177.60" r="4.25"/>
<circle cx="146.91" cy="1210.45" r="4.25"/>
<circle cx="205.73" cy="1205.76" r="4.25"/>
<circle cx="221.61" cy="1135.36" r="4.25"/>
<circle cx="230.94" cy="1140.05" r="4.25"/>
<circle cx="240.28" cy="1201.06" r="4.25"/>
<circle cx="249.62" cy="1116.59" r="4.25"/>
<circle cx="258.96" cy="1111.90" r="4.25"/>
<circle cx="258.96" cy="1144.75" r="4.25"/>
<circle cx="258.96" cy="1149.44" r="4.25"/>
<circle cx="277.63" cy="1111.90" r="4.25"/>
<circle cx="277.63" cy="1158.83" r="4.25"/>
<circle cx="286.97" cy="1121.28" r="4.25"/>
<circle cx="286.97" cy="1158.83" r="4.25"/>
<circle cx="296.30" cy="1111.90" r="4.25"/>
<circle cx="300.04" cy="1158.83" r="4.25"/>
<circle cx="305.64" cy="1125.97" r="4.25"/>
<circle cx="342.99" cy="1158.83" r="4.25"/>
<circle cx="352.32" cy="1144.75" r="4.25"/>
<circle cx="371.00" cy="1140.05" r="4.25"/>
<circle cx="389.67" cy="1041.50" r="4.25"/>
<circle cx="389.67" cy="1060.27" r="4.25"/>
<circle cx="399.01" cy="1064.97" r="4.25"/>
<circle cx="389.67" cy="1074.35" r="4.25"/>
<circle cx="408.35" cy="1111.90" r="4.25"/>
<circle cx="417.68" cy="1046.19" r="4.25"/>
<circle cx="427.02" cy="1064.97" r="4.25"/>
<circle cx="427.02" cy="1074.35" r="4.25"/>
<circle cx="417.68" cy="1130.67" r="4.25"/>
<circle cx="417.68" cy="1140.05" r="4.25"/>
<circle cx="399.01" cy="1018.04" r="4.25"/>
<circle cx="417.68" cy="1027.42" r="4.25"/>
<circle cx="427.02" cy="1027.42" r="4.25"/>
<circle cx="427.02" cy="1036.81" r="4.25"/>
<circle cx="445.70" cy="1027.42" r="4.25"/>
<circle cx="455.03" cy="1008.65" r="4.25"/>
<circle cx="464.37" cy="1036.81" r="4.25"/>
<circle cx="473.71" cy="989.88" r="4.25"/>
<circle cx="473.71" cy="1022.73" r="4.25"/>
<circle cx="473.71" cy="1050.89" r="4.25"/>
<circle cx="483.04" cy="1013.34" r="4.25"/>
<circle cx="492.38" cy="1041.50" r="4.25"/>
<circle cx="511.05" cy="1055.58" r="4.25"/>
<circle cx="511.05" cy="1074.35" r="4.25"/>
<circle cx="518.52" cy="1083.74" r="4.25"/>
<circle cx="548.40" cy="1050.89" r="4.25"/>
<circle cx="557.74" cy="1032.12" r="4.25"/>
<circle cx="567.08" cy="1022.73" r="4.25"/>
<circle cx="567.08" cy="1036.81" r="4.25"/>
<circle cx="585.75" cy="1018.04" r="4.25"/>
<circle cx="651.11" cy="1041.50" r="4.25"/>
</g>
</svg>
</body></html>
